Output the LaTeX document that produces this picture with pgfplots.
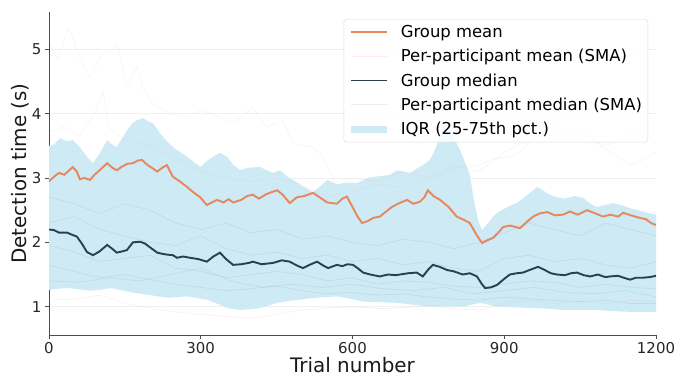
\documentclass[border=0pt]{standalone}
\usepackage{fontspec}
\setmainfont{DejaVu Sans}
\usepackage{pgfplots}
\usepackage{pgfplotstable}
\pgfplotsset{compat=1.18}
\usepgfplotslibrary{fillbetween}
\definecolor{cmean}{RGB}{232,134,92}
\definecolor{cmed}{RGB}{44,62,84}
\definecolor{cband}{RGB}{205,234,245}
\definecolor{cfaintm}{RGB}{240,190,175}
\definecolor{cfaintg}{RGB}{150,160,170}

\pgfplotstableread{
x y
0 2.95
10 3.02
20 3.08
30 3.05
40 3.12
47 3.17
55 3.10
61 2.98
70 3.00
81 2.97
90 3.05
100 3.12
115 3.23
125 3.16
134 3.12
145 3.18
155 3.22
166 3.23
175 3.27
184 3.28
195 3.20
205 3.15
214 3.10
224 3.16
233 3.20
245 3.02
258 2.95
273 2.86
285 2.78
299 2.70
312 2.58
322 2.62
332 2.66
345 2.62
355 2.67
364 2.62
380 2.66
392 2.72
403 2.74
415 2.68
430 2.75
440 2.78
451 2.81
462 2.74
476 2.61
490 2.70
505 2.72
522 2.77
535 2.70
550 2.62
569 2.60
580 2.68
589 2.71
600 2.55
610 2.40
619 2.30
630 2.33
641 2.38
654 2.40
665 2.47
678 2.55
690 2.60
708 2.66
720 2.60
733 2.63
742 2.70
749 2.81
760 2.72
773 2.66
790 2.55
806 2.40
820 2.35
832 2.30
845 2.12
856 1.99
866 2.03
878 2.07
888 2.15
898 2.24
912 2.26
931 2.22
945 2.32
957 2.40
970 2.45
985 2.47
1000 2.42
1016 2.43
1030 2.48
1045 2.43
1064 2.50
1080 2.45
1095 2.40
1110 2.43
1125 2.40
1135 2.46
1150 2.42
1168 2.38
1180 2.36
1190 2.30
1200 2.27
}\meantab

\pgfplotstableread{
x y
0 2.20
10 2.19
20 2.15
36 2.15
45 2.12
55 2.09
65 1.98
75 1.85
87 1.80
100 1.86
115 1.96
125 1.90
134 1.84
145 1.86
154 1.88
166 2.00
180 2.01
190 1.98
200 1.92
214 1.84
225 1.82
233 1.81
245 1.80
253 1.76
265 1.78
279 1.76
295 1.74
312 1.70
325 1.78
338 1.84
350 1.74
364 1.65
380 1.66
395 1.68
403 1.70
420 1.66
443 1.68
460 1.72
476 1.70
490 1.64
502 1.60
515 1.65
530 1.70
542 1.64
552 1.60
569 1.65
580 1.63
590 1.66
601 1.65
610 1.60
621 1.53
635 1.50
654 1.47
670 1.50
685 1.49
694 1.50
710 1.52
727 1.53
739 1.47
750 1.58
759 1.65
772 1.62
787 1.57
800 1.55
818 1.50
832 1.52
846 1.47
855 1.36
862 1.29
874 1.30
886 1.34
898 1.42
911 1.50
925 1.52
937 1.53
950 1.57
967 1.62
980 1.57
992 1.52
1004 1.50
1020 1.49
1032 1.52
1044 1.53
1057 1.49
1070 1.47
1085 1.50
1100 1.46
1109 1.47
1125 1.48
1140 1.44
1149 1.42
1160 1.45
1174 1.45
1188 1.46
1200 1.48
}\medtab

\pgfplotstableread{
x y
0 3.50
10 3.52
22 3.62
35 3.57
47 3.59
61 3.48
75 3.33
87 3.23
101 3.39
115 3.59
125 3.52
134 3.48
145 3.62
154 3.74
165 3.85
174 3.90
186 3.93
196 3.88
206 3.85
219 3.70
232 3.58
245 3.48
260 3.40
273 3.33
286 3.25
299 3.17
315 3.28
330 3.36
338 3.39
352 3.33
365 3.20
378 3.12
395 3.16
417 3.17
430 3.12
443 3.08
457 3.12
470 3.03
482 2.97
500 2.88
522 2.78
538 2.88
550 2.97
569 2.90
590 2.93
609 2.92
622 2.97
634 3.01
655 3.03
674 3.05
688 3.12
700 3.10
714 3.08
728 3.15
739 3.20
753 3.28
762 3.42
772 3.62
785 3.93
795 3.72
805 3.55
813 3.43
822 3.25
832 3.05
840 2.65
848 2.35
856 2.19
866 2.28
878 2.40
886 2.46
900 2.52
912 2.57
925 2.61
940 2.70
951 2.77
965 2.86
978 2.80
990 2.74
1004 2.70
1020 2.68
1040 2.72
1056 2.69
1070 2.60
1083 2.55
1100 2.58
1115 2.61
1130 2.58
1149 2.53
1165 2.50
1182 2.46
1200 2.43
}\uptab

\pgfplotstableread{
x y
0 1.26
20 1.28
36 1.29
60 1.27
80 1.25
101 1.26
121 1.29
140 1.26
166 1.22
200 1.18
233 1.14
273 1.16
312 1.11
335 1.04
352 0.98
378 0.95
400 0.96
417 0.98
435 1.02
451 1.06
475 1.09
496 1.11
530 1.14
569 1.16
590 1.13
621 1.08
655 1.07
688 1.06
720 1.03
753 1.00
790 1.00
818 1.00
852 1.06
870 1.03
886 1.00
920 0.99
951 0.98
985 0.97
1016 0.95
1050 0.95
1083 0.95
1115 0.93
1149 0.92
1175 0.92
1200 0.92
}\lotab

\begin{document}
\begin{tikzpicture}
\begin{axis}[
  scale only axis,
  width=607bp, height=323bp,
  at={(0,0)}, anchor=south west,
  xmin=0, xmax=1200, ymin=0.56, ymax=5.58,
  xtick={0,300,600,900,1200},
  ytick={1,2,3,4,5},
  axis x line*=bottom, axis y line*=left,
  axis line style={draw=black!70, line width=0.8bp},
  tick style={draw=black!70, line width=0.8bp},
  tick align=outside,
  major tick length=4bp,
  ymajorgrids,
  grid style={draw=black!6, line width=0.8bp},
  /pgf/number format/assume math mode=true,
  /pgf/number format/1000 sep={},
  ticklabel style={font=\fontsize{15}{18}\selectfont, text=black!85},
  xlabel={Trial number}, ylabel={Detection time (s)},
  label style={font=\fontsize{20}{24}\selectfont, text=black!90},
  xlabel style={yshift=3bp},
  ylabel style={yshift=-4bp},
  clip=true,
  legend cell align=left,
  legend style={at={(0.987,0.978)}, anchor=north east,
    draw=black!15, rounded corners=3bp, fill=white, fill opacity=0.85, text opacity=1,
    font=\fontsize{16.5}{20}\selectfont, row sep=6.3bp, inner sep=4bp},
  legend image code/.code={\draw[#1] (0bp,0bp) -- (36bp,0bp); \path (44bp,0bp);},
]
% IQR band
\addplot[name path=up, draw=none, forget plot] table[x=x,y=y] {\uptab};
\addplot[name path=lo, draw=none, forget plot] table[x=x,y=y] {\lotab};
\addplot[fill=cband, draw=none, forget plot] fill between[of=up and lo];

% per-participant mean (faint)
\addplot[cfaintm, opacity=0.2, line width=0.6bp, forget plot] coordinates {
(0,5.14)(10,4.95)(18,4.83)(28,5.1)(38,5.34)(48,5.15)(55,4.98)(68,4.75)(81,4.57)(101,4.88)(115,4.98)(125,4.95)(134,5.09)(145,4.75)(154,4.41)(166,4.6)(174,4.72)(186,4.4)(200,4.21)(214,4.1)(240,4.0)(273,3.95)(299,4.05)(338,3.95)(364,3.85)(403,4.1)(430,3.79)(462,3.9)(482,3.54)(522,3.48)(542,3.33)(569,2.86)(600,3.0)(650,2.95)(700,3.1)(760,3.0)(800,3.15)(850,3.2)(880,3.3)(920,3.35)(960,3.6)(1000,3.75)(1030,3.55)(1060,3.7)(1090,3.5)(1120,3.35)(1150,3.2)(1180,3.3)(1200,3.4)};
\addplot[cfaintm, opacity=0.2, line width=0.6bp, forget plot] coordinates {
(0,3.7)(30,3.8)(60,3.65)(90,4.0)(107,4.36)(117,3.79)(150,3.6)(200,3.5)(250,3.3)(300,3.1)(350,3.0)(400,2.95)(450,3.0)(500,2.9)(550,2.7)(600,2.8)(650,2.9)(700,2.85)(750,3.0)(800,3.2)(850,3.1)(900,3.4)(950,3.6)(1000,3.8)(1050,3.7)(1100,3.5)(1150,3.7)(1200,3.55)};
\addplot[cfaintm, opacity=0.25, line width=0.6bp, forget plot] coordinates {
(0,1.1)(50,1.12)(100,1.18)(150,1.05)(200,0.98)(250,0.92)(300,0.88)(350,0.85)(400,0.82)(450,0.88)(500,0.95)(550,0.98)(600,1.0)(650,0.97)(700,0.98)(750,1.02)(800,0.97)(850,0.95)(900,1.05)(950,1.1)(1000,1.05)(1050,1.08)(1100,1.05)(1150,1.1)(1200,1.08)};

% per-participant median (faint)
\addplot[cfaintg, opacity=0.22, line width=0.6bp, forget plot] coordinates {
(0,2.7)(50,2.6)(100,2.45)(150,2.6)(200,2.5)(250,2.3)(300,2.2)(350,2.3)(400,2.15)(450,2.2)(500,2.05)(550,2.1)(600,2.0)(650,1.95)(700,2.05)(750,2.0)(800,1.9)(850,2.0)(900,2.15)(950,2.3)(1000,2.2)(1050,2.1)(1100,2.3)(1150,2.2)(1200,2.1)};
\addplot[cfaintg, opacity=0.22, line width=0.6bp, forget plot] coordinates {
(0,1.95)(50,1.85)(100,1.7)(150,1.75)(200,1.8)(250,1.6)(300,1.55)(350,1.45)(400,1.5)(450,1.55)(500,1.5)(550,1.4)(600,1.45)(650,1.35)(700,1.4)(750,1.38)(800,1.32)(850,1.3)(900,1.35)(950,1.4)(1000,1.38)(1050,1.3)(1100,1.35)(1150,1.3)(1200,1.28)};
\addplot[cfaintg, opacity=0.22, line width=0.6bp, forget plot] coordinates {
(0,1.65)(50,1.55)(100,1.45)(150,1.5)(200,1.42)(250,1.35)(300,1.3)(350,1.25)(400,1.28)(450,1.32)(500,1.25)(550,1.2)(600,1.22)(650,1.18)(700,1.2)(750,1.15)(800,1.12)(850,1.1)(900,1.15)(950,1.12)(1000,1.1)(1050,1.08)(1100,1.1)(1150,1.05)(1200,1.05)};
\addplot[cfaintg, opacity=0.22, line width=0.6bp, forget plot] coordinates {
(0,2.3)(50,2.4)(100,2.2)(150,2.1)(200,2.0)(250,1.95)(300,2.1)(350,1.9)(400,1.8)(450,1.85)(500,1.75)(550,1.8)(600,1.7)(650,1.75)(700,1.65)(750,1.7)(800,1.6)(850,1.55)(900,1.75)(950,1.8)(1000,1.7)(1050,1.75)(1100,1.65)(1150,1.6)(1200,1.7)};
\addplot[cfaintg, opacity=0.22, line width=0.6bp, forget plot] coordinates {
(0,1.4)(60,1.38)(120,1.45)(180,1.4)(240,1.5)(300,1.6)(360,1.4)(420,1.3)(480,1.35)(540,1.3)(600,1.35)(660,1.28)(720,1.25)(780,1.3)(840,1.2)(900,1.25)(960,1.3)(1020,1.22)(1080,1.2)(1140,1.25)(1200,1.15)};

% group lines
\addplot[cmean, line width=1.9bp, forget plot] table[x=x,y=y] {\meantab};
\addplot[cmed, line width=1.9bp, forget plot] table[x=x,y=y] {\medtab};

\addlegendimage{cmean, line width=1.9bp}
\addlegendentry{Group mean}
\addlegendimage{cfaintm, opacity=0.25, line width=0.8bp}
\addlegendentry{Per-participant mean (SMA)}
\addlegendimage{cmed, line width=1.9bp}
\addlegendentry{Group median}
\addlegendimage{cfaintg, opacity=0.2, line width=0.8bp}
\addlegendentry{Per-participant median (SMA)}
\addlegendimage{cband, line width=7bp}
\addlegendentry{IQR (25-75th pct.)}
\end{axis}
\pgfresetboundingbox
\useasboundingbox (-49bp,-48bp) rectangle (629bp,335bp);
\end{tikzpicture}
\end{document}
